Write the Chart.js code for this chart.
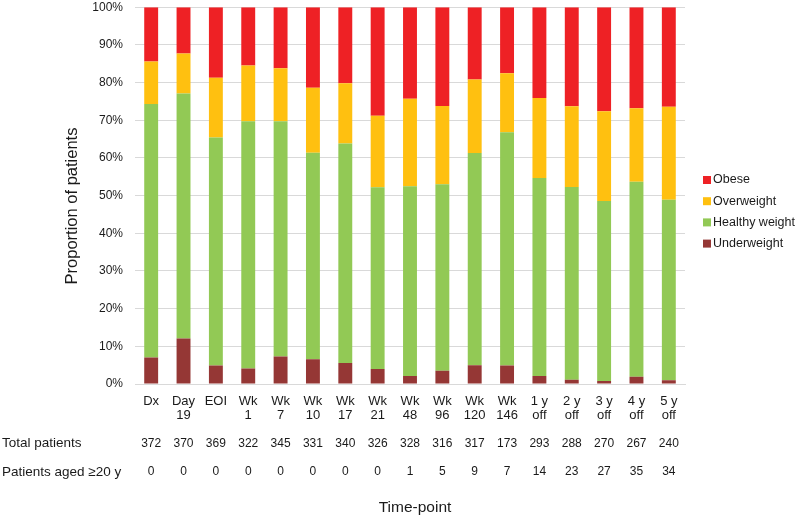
<!DOCTYPE html>
<html>
<head>
<meta charset="utf-8">
<script src="https://cdn.jsdelivr.net/npm/chart.js@4/dist/chart.umd.min.js"></script>
<style>
html,body{margin:0;padding:0;background:#fff;overflow:hidden;}
canvas{display:block;margin-top:-12px;}
</style>
</head>
<body>
<canvas id="c" width="800" height="531"></canvas>
<script>
const categories = [["Dx"],["Day","19"],["EOI"],["Wk","1"],["Wk","7"],["Wk","10"],["Wk","17"],["Wk","21"],["Wk","48"],["Wk","96"],["Wk","120"],["Wk","146"],["1 y","off"],["2 y","off"],["3 y","off"],["4 y","off"],["5 y","off"]];
const underweight = [7.0,12.1,4.9,4.1,7.3,6.6,5.6,4.0,2.1,3.5,5.0,4.9,2.1,1.1,0.8,1.9,1.0];
const healthy = [67.3,65.0,60.5,65.6,62.4,54.8,58.2,48.2,50.4,49.5,56.3,61.9,52.6,51.2,47.8,51.8,47.9];
const overweight = [11.3,10.6,15.9,14.8,14.1,17.2,16.0,19.0,23.2,20.8,19.5,15.7,21.2,21.4,23.8,19.5,24.7];
const obese = [14.4,12.3,18.7,15.5,16.2,21.4,20.2,28.8,24.3,26.2,19.2,17.5,24.1,26.3,27.6,26.8,26.4];
const totalPatients = [372,370,369,322,345,331,340,326,328,316,317,173,293,288,270,267,240];
const aged20 = [0,0,0,0,0,0,0,0,1,5,9,7,14,23,27,35,34];
const yTicks = [0,10,20,30,40,50,60,70,80,90,100];

const FONT = "'Liberation Sans', Arial, sans-serif";
const TXT = "#1a1a1a";
const OFF = 12; // canvas is shifted up by this many px

const extras = {
  id: 'extras',
  afterDraw(chart) {
    const ctx = chart.ctx;
    const xs = chart.scales.x;
    ctx.save();
    ctx.fillStyle = TXT;
    // y title
    ctx.save();
    ctx.translate(72.5, 206 + OFF);
    ctx.rotate(-Math.PI / 2);
    ctx.font = "16.5px " + FONT;
    ctx.textAlign = 'center';
    ctx.textBaseline = 'middle';
    ctx.fillText('Proportion of patients', 0, 0);
    ctx.restore();
    // table rows
    ctx.font = "13.5px " + FONT;
    ctx.textAlign = 'left';
    ctx.textBaseline = 'middle';
    ctx.fillText('Total patients', 2, 443 + OFF);
    ctx.fillText('Patients aged \u226520 y', 2, 472 + OFF);
    ctx.font = "12px " + FONT;
    ctx.textAlign = 'center';
    totalPatients.forEach((v, i) => ctx.fillText(String(v), xs.getPixelForValue(i), 443.5 + OFF));
    aged20.forEach((v, i) => ctx.fillText(String(v), xs.getPixelForValue(i), 472 + OFF));
    // x title
    ctx.font = "15.5px " + FONT;
    ctx.fillText('Time-point', 415, 508 + OFF);
    // legend
    const items = chart.data.datasets.slice().reverse();
    ctx.font = "12.5px " + FONT;
    ctx.textAlign = 'left';
    items.forEach((d, k) => {
      const y = 180 + k * 21.2 + OFF;
      ctx.fillStyle = d.backgroundColor;
      ctx.fillRect(703, y - 4, 8, 8);
      ctx.fillStyle = TXT;
      ctx.fillText(d.label, 713, y);
    });
    ctx.restore();
  }
};

new Chart(document.getElementById('c'), {
  type: 'bar',
  data: {
    labels: categories,
    datasets: [
      { label: 'Underweight', data: underweight, backgroundColor: '#953735' },
      { label: 'Healthy weight', data: healthy, backgroundColor: '#92C955' },
      { label: 'Overweight', data: overweight, backgroundColor: '#FFC010' },
      { label: 'Obese', data: obese, backgroundColor: '#EE2125' }
    ]
  },
  options: {
    responsive: false,
    animation: false,
    devicePixelRatio: 1,
    layout: { padding: { left: 0, right: 115, top: 0, bottom: 0 } },
    datasets: { bar: { categoryPercentage: 1, barPercentage: 0.43, borderWidth: 0 } },
    plugins: { legend: { display: false }, tooltip: { enabled: false } },
    scales: {
      x: {
        stacked: true,
        grid: { display: false, drawTicks: false },
        border: { display: true, color: '#D9D9D9' },
        ticks: { color: TXT, font: { family: FONT, size: 13, lineHeight: 1.05 }, padding: 11, maxRotation: 0, autoSkip: false },
        afterFit(s) { s.height = 135; }
      },
      y: {
        stacked: true,
        min: 0, max: 100,
        afterBuildTicks(s) { s.ticks = yTicks.map(v => ({ value: v })); },
        grid: { color: '#D9D9D9', drawTicks: false },
        border: { display: false },
        ticks: { color: TXT, font: { family: FONT, size: 12 }, padding: 12, callback: v => v + '%' },
        afterFit(s) { s.width = 135; }
      }
    }
  },
  plugins: [extras]
});
</script>
</body>
</html>
